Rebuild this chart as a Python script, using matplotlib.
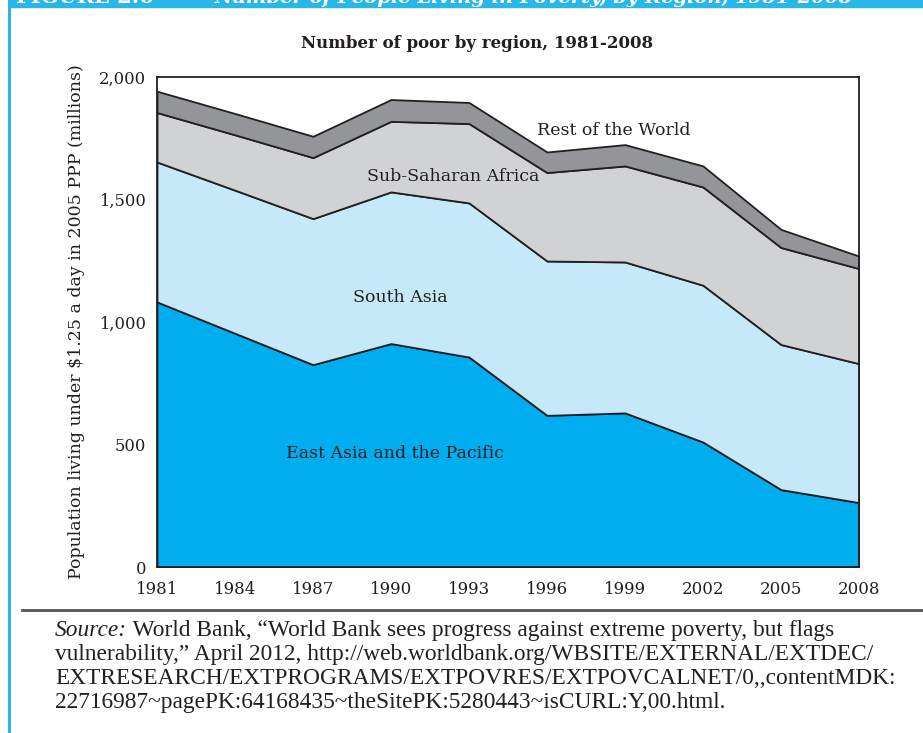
import matplotlib
matplotlib.use("Agg")
import matplotlib.pyplot as plt
from matplotlib.lines import Line2D
from matplotlib.patches import Rectangle

# data (millions of people)
years = [1981, 1984, 1987, 1990, 1993, 1996, 1999, 2002, 2005, 2008]
east_asia = [1082, 954, 826, 912, 857, 619, 629, 510, 316, 263]
south_asia = [571, 584, 596, 619, 629, 630, 616, 640, 592, 567]
ss_africa = [202, 226, 249, 288, 324, 361, 392, 401, 396, 388]
rest_world = [87, 87, 87, 89, 86, 84, 87, 86, 74, 51]

region_names = ["East Asia and the Pacific", "South Asia",
                "Sub-Saharan Africa", "Rest of the World"]
region_colors = ["#00aeef", "#c6e9f9", "#d1d2d4", "#939598"]
# where each name sits (year, millions)
label_spots = [(1990.15, 464), (1990.35, 1101), (1992.4, 1595), (1998.55, 1782)]

y_ticks = [0, 500, 1000, 1500, 2000]
y_tick_labels = ["0", "500", "1,000", "1,500", "2,000"]

source_lines = [
    "World Bank, \u201cWorld Bank sees progress against extreme poverty, but flags",
    "vulnerability,\u201d April 2012, http://web.worldbank.org/WBSITE/EXTERNAL/EXTDEC/",
    "EXTRESEARCH/EXTPROGRAMS/EXTPOVRES/EXTPOVCALNET/0,,contentMDK:",
    "22716987~pagePK:64168435~theSitePK:5280443~isCURL:Y,00.html.",
]

plt.rcParams["font.family"] = ["DejaVu Serif"]
ink = "#231f20"

W, H = 923, 733
fig = plt.figure(figsize=(W / 100, H / 100), dpi=100)
ax = fig.add_axes([157 / W, 1 - 567 / H, 702 / W, 490 / H])

ax.stackplot(years, east_asia, south_asia, ss_africa, rest_world,
             colors=region_colors, edgecolor=ink, linewidth=1.3)

ax.set_xlim(1981, 2008)
ax.set_ylim(0, 2000)
ax.set_xticks(years)
ax.set_xticklabels([str(y) for y in years], fontsize=12, color=ink)
ax.set_yticks(y_ticks)
ax.set_yticklabels(y_tick_labels, fontsize=11.8, color=ink)
ax.tick_params(axis="x", length=0, pad=10)
ax.tick_params(axis="y", length=0, pad=8)
for s in ax.spines.values():
    s.set_color(ink)
    s.set_linewidth(1.3)
ax.set_ylabel("Population living under $1.25 a day in 2005 PPP (millions)",
              fontsize=12.5, color=ink, labelpad=10)

fig.text(477 / W, 1 - 44 / H, "Number of poor by region, 1981-2008", fontsize=12,
         fontweight="bold", color=ink, ha="center", va="center")

for name, (lx, ly) in zip(region_names, label_spots):
    ax.text(lx, ly, name, fontsize=12.5, color=ink, ha="center", va="center")

# page furniture: cyan header bar, left rule, separator, source note
cyan = "#29b6e8"
fig.patches.append(Rectangle((9 / W, 1 - 7 / H), 1, 7 / H, transform=fig.transFigure,
                             color=cyan, zorder=0))
fig.text(16 / W, 1 - 3 / H, "FIGURE 2.6", fontsize=15, fontweight="bold",
         color="white", va="baseline")
fig.text(215 / W, 1 - 3 / H,
         "Number of People Living in Poverty, by Region, 1981-2008",
         fontsize=14, fontweight="bold", style="italic", color="white", va="baseline")
fig.add_artist(Line2D([9 / W, 9 / W], [0, 1], color=cyan, lw=2.2))
fig.add_artist(Line2D([22 / W, 1], [1 - 610 / H, 1 - 610 / H], color="#555555", lw=2))

src_font = {"family": ["Liberation Serif"], "size": 16.8, "color": ink}
x0 = 55 / W
lead = fig.text(x0, 1 - 636 / H, "Source:", style="italic", va="baseline", **src_font)
fig.add_artist(matplotlib.text.Annotation(
    " " + source_lines[0], xy=(1, 0), xycoords=lead, va="bottom", **src_font))
for i, line in enumerate(source_lines[1:]):
    fig.text(x0, 1 - (660 + 24 * i) / H, line, va="baseline", **src_font)

fig.savefig("out.png", dpi=100)
